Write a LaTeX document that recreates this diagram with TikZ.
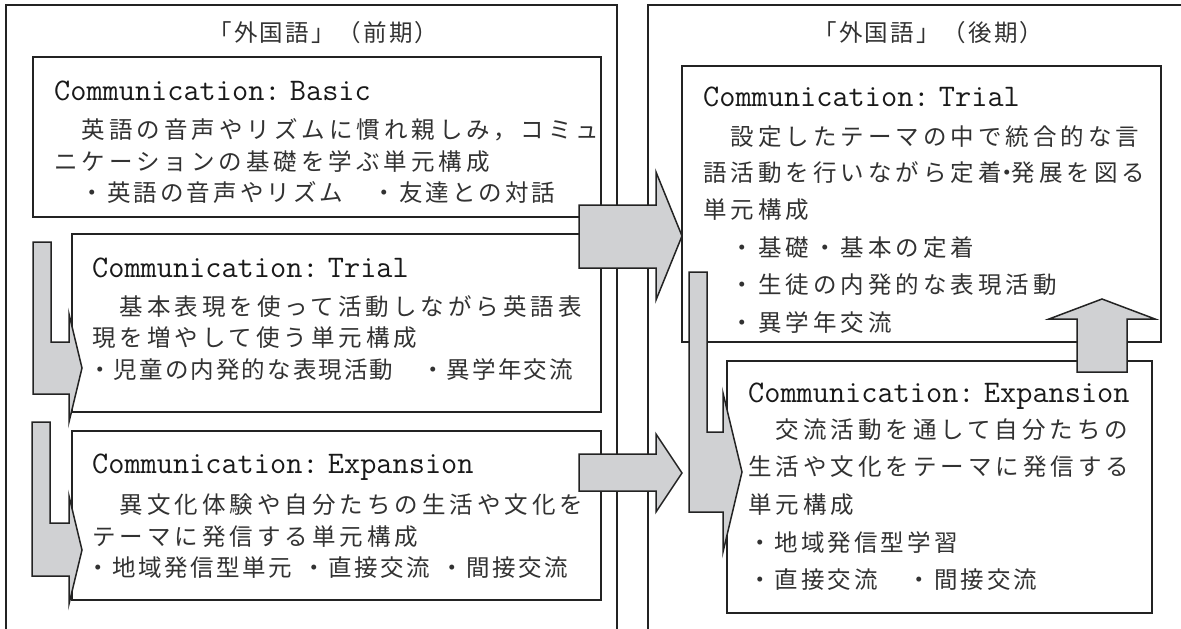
\documentclass[tikz,border=0pt]{standalone}
\usepackage{fontspec}
\newfontfamily\cjkfont{Noto Sans CJK JP}
\definecolor{linec}{RGB}{35,35,35}
\definecolor{agray}{RGB}{208,209,211}
\definecolor{textc}{RGB}{50,50,50}
\newcommand\bodyls[1]{\cjkfont\fontsize{23.5}{23.5}\selectfont\addfontfeature{LetterSpace=#1}}
\newcommand\hdrfont{\ttfamily\fontsize{31.4}{32}\selectfont\addfontfeature{FakeBold=1.4}\spaceskip=4pt\relax}
\newcommand\nd{\makebox[10pt][l]{\kern-6.2pt ・}}
\tikzset{
  frame/.style={draw=linec, line width=1.6pt},
  box/.style={draw=linec, line width=1.9pt, fill=white, rectangle, inner sep=0pt},
  blockarrow/.style={draw=linec, line width=1.5pt, fill=agray, line join=miter},
  hdr/.style={anchor=base west, inner sep=0pt, text=black!90, font=\hdrfont},
  txt/.style={anchor=base west, inner sep=0pt, text=textc, font=\bodyls{17}},
  tight/.style={font=\bodyls{#1}},
}
\begin{document}
\begin{tikzpicture}[x=1pt,y=-1pt]
\useasboundingbox (0,0) rectangle (1181,629);
% panels
\draw[frame] (6,629) -- (6,5) -- (617,5) -- (617,629);
\draw[frame] (648,629) -- (648,5) -- (1181,5);
\node[txt, tight=10] (t1) at (208,41) {「外国語」（前期）};
\node[txt, tight=10] (t2) at (813,41) {「外国語」（後期）};
% boxes
\node[box, minimum width=568, minimum height=160] (basic) at (317,137) {};
\node[box, minimum width=529, minimum height=178] (trialL) at (336.5,323) {};
\node[box, minimum width=529, minimum height=169] (expL) at (336.5,515.5) {};
\node[box, minimum width=479, minimum height=276] (trialR) at (921.5,204) {};
\node[box, minimum width=425, minimum height=252] (expR) at (939.5,487) {};
% left basic
\node[hdr] (hb) at (54,100) {Communication: Basic};
\node[txt] (b1) at (54,138) {　英語の音声やリズムに慣れ親しみ，コミュ};
\node[txt] (b2) at (54,170) {ニケーションの基礎を学ぶ単元構成};
\node[txt, tight=13] (b3) at (54,201) {　・英語の音声やリズム　・友達との対話};
% left trial
\node[hdr] (ht) at (92,277) {Communication: Trial};
\node[txt] (tl1) at (92,315) {　基本表現を使って活動しながら英語表};
\node[txt] (tl2) at (92,346) {現を増やして使う単元構成};
\node[txt, tight=9] (tl3) at (88,378) {・児童の内発的な表現活動　・異学年交流};
% left expansion
\node[hdr] (he) at (92,473) {Communication: Expansion};
\node[txt] (el1) at (92,513) {　異文化体験や自分たちの生活や文化を};
\node[txt] (el2) at (92,545) {テーマに発信する単元構成};
\node[txt, tight=11] (el3) at (86,576) {・地域発信型単元\hspace{10pt}・直接交流\hspace{10pt}・間接交流};
% right trial
\node[hdr] (hrt) at (703,106) {Communication: Trial};
\node[txt] (tr1) at (703,145) {　設定したテーマの中で統合的な言};
\node[txt] (tr2) at (703,181) {語活動を行いながら定着\nd 発展を図る};
\node[txt] (tr3) at (703,218) {単元構成};
\node[txt] (tr4) at (703,256) {　・基礎・基本の定着};
\node[txt] (tr5) at (703,293) {　・生徒の内発的な表現活動};
\node[txt] (tr6) at (703,331) {　・異学年交流};
% right expansion
\node[hdr] (hre) at (748,402) {Communication: Expansion};
\node[txt] (er1) at (748,438) {　交流活動を通して自分たちの};
\node[txt] (er2) at (748,475) {生活や文化をテーマに発信する};
\node[txt] (er3) at (748,513) {単元構成};
\node[txt, tight=13] (er4) at (748,551) {・地域発信型学習};
\node[txt, tight=13] (er5) at (748,588) {・直接交流　・間接交流};
% block arrows
\draw[blockarrow] (33,242) -- (51,242) -- (51,342) -- (69,342) -- (69,314) -- (82,368) -- (69,422) -- (69,394) -- (33,394) -- cycle;
\draw[blockarrow] (32,422) -- (50,422) -- (50,523) -- (69,523) -- (69,496) -- (82,550) -- (69,604) -- (69,576) -- (32,576) -- cycle;
\draw[blockarrow] (579,205) -- (656,205) -- (656,172) -- (682,236) -- (656,300) -- (656,268) -- (579,268) -- cycle;
\draw[blockarrow] (579,454) -- (656,454) -- (656,434) -- (682,473) -- (656,512) -- (656,491) -- (579,491) -- cycle;
\draw[blockarrow] (689,272) -- (707,272) -- (707,432) -- (723,432) -- (723,393) -- (742,472) -- (723,552) -- (723,512) -- (689,512) -- cycle;
\draw[blockarrow] (1077,372) -- (1077,319) -- (1049,319) -- (1102,299) -- (1155,319) -- (1127,319) -- (1127,372) -- cycle;
\end{tikzpicture}
\end{document}
